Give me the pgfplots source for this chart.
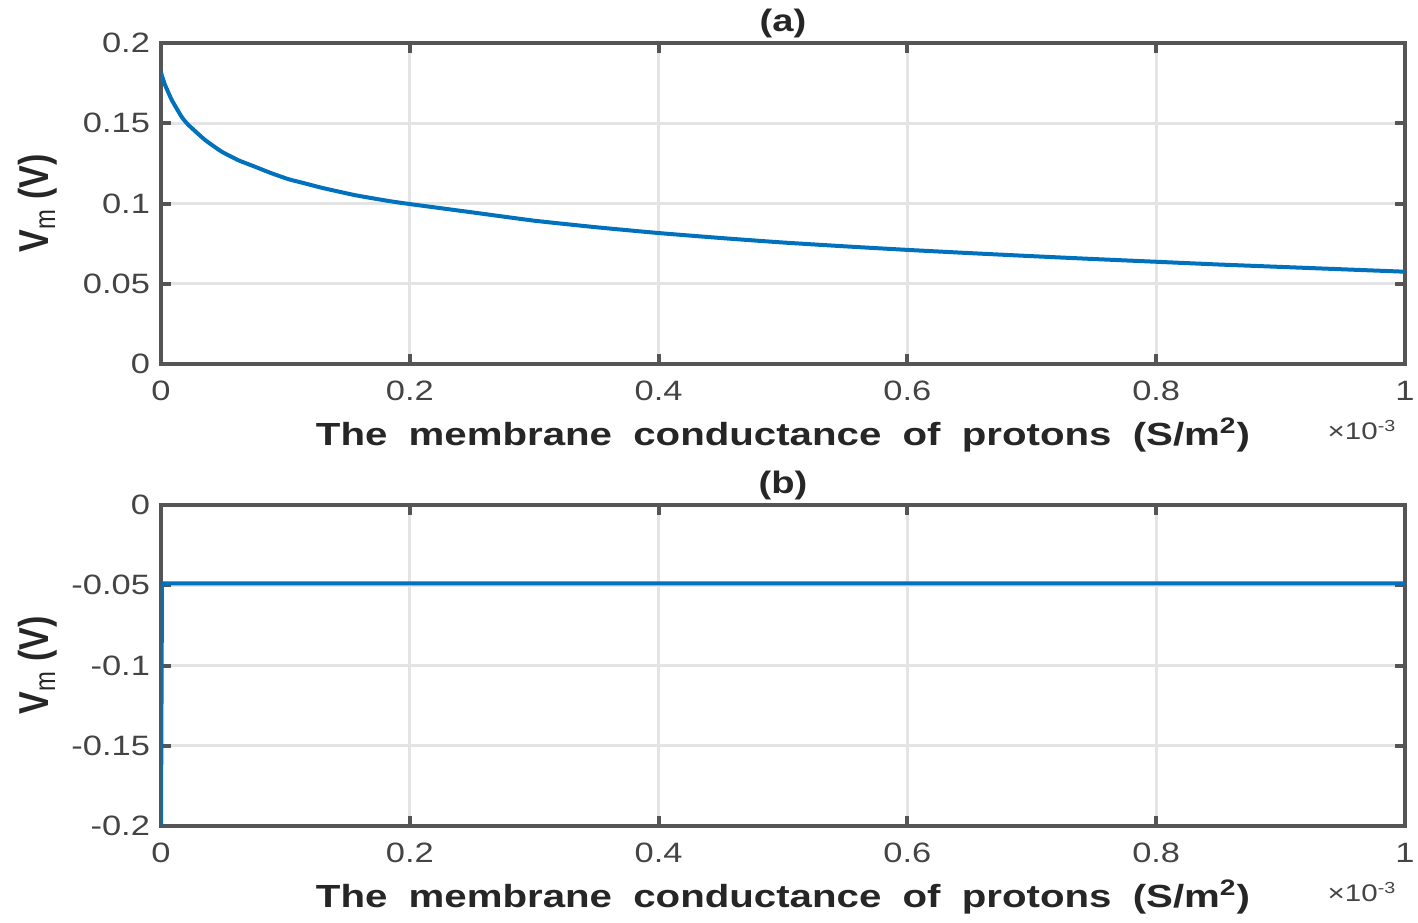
\documentclass[border=0pt]{standalone}
\usepackage{pgfplots}
\pgfplotsset{compat=1.18}
\usepackage{fontspec}
\setmainfont[FakeStretch=1.23]{Liberation Sans}
\newfontfamily\plainfont{Liberation Sans}
\definecolor{mblue}{HTML}{0072BD}
\definecolor{axgray}{HTML}{555555}
\definecolor{tickgray}{HTML}{444444}
\definecolor{gridgray}{HTML}{E4E4E4}
\newcommand{\ws}{\hspace{0.65em}}
\newcommand{\xlab}{\resizebox{467pt}{\height}{The\ws membrane\ws conductance\ws of\ws protons\ws (S/m\textsuperscript{2})}}
\newcommand{\ylab}{\scalebox{1}[1.23]{\plainfont\textbf{V}\textsubscript{m}\ \textbf{(V)}}}
\pgfplotsset{
  mstyle/.style={
    scale only axis, width=622pt, height=160.5pt,
    xmin=0, xmax=1, clip mode=individual,
    axis line style={axgray, line width=2pt},
    grid=major, major grid style={gridgray, line width=1.6pt},
    tick align=inside, major tick length=5pt,
    every tick/.style={axgray, line width=2pt},
    xtick={0,0.2,0.4,0.6,0.8,1},
    xticklabels={0,0.2,0.4,0.6,0.8,1},
    /pgf/number format/assume math mode=true,
    ticklabel style={font=\fontsize{14}{17}\selectfont, text=tickgray},
    xticklabel style={anchor=center, yshift=-13.5pt},
    yticklabel style={xshift=-2pt},
    xlabel={\xlab},
    xlabel style={at={(axis description cs:0.5,0)}, anchor=center, yshift=-35.5pt,
      font=\bfseries\fontsize{16}{19}\selectfont, text=black!85},
    ylabel={\ylab},
    ylabel style={at={(axis description cs:0,0.5)}, anchor=center, yshift=61.5pt,
      font=\fontsize{17}{20}\selectfont, text=black!85},
    title style={at={(axis description cs:0.5,1)}, anchor=center, yshift=4pt,
      font=\bfseries\fontsize{15.5}{18}\selectfont, text=black!85},
  }
}
\pgfplotstableread{
x y
0 0.182
0.0006 0.180
0.0032 0.174
0.0086 0.1646
0.0166 0.154
0.022 0.149
0.0354 0.1396
0.0488 0.1323
0.0621 0.127
0.0756 0.1229
0.089 0.1188
0.1023 0.1152
0.1158 0.1125
0.1292 0.1098
0.156 0.1052
0.1827 0.1016
0.2015 0.0995
0.25 0.0945
0.3 0.0893
0.35 0.0852
0.4 0.0816
0.45 0.0785
0.5 0.0757
0.55 0.0733
0.6 0.0711
0.65 0.0691
0.7 0.0672
0.75 0.0654
0.8 0.0637
0.85 0.0620
0.9 0.0605
0.95 0.0590
1.0 0.0575
}\dataA
\pgfplotstableread{
x y
0 -0.2
0.0008 -0.0488
1 -0.0488
}\dataB
\begin{document}
\begin{tikzpicture}
\begin{axis}[mstyle, at={(0pt,0pt)}, anchor=north west,
  title={(a)},
  ymin=0, ymax=0.2,
  ytick={0,0.05,0.1,0.15,0.2},
  yticklabels={0,0.05,0.1,0.15,0.2}]
\addplot[mblue, line width=2pt, line join=round, smooth, tension=0.3] table[x=x,y=y] {\dataA};
\node[anchor=center, text=tickgray, font=\fontsize{12}{14}\selectfont]
  at (rel axis cs:1,0) [xshift=-21.5pt, yshift=-33pt] {×10\textsuperscript{-3}};
\end{axis}
\begin{axis}[mstyle, at={(0pt,-231pt)}, anchor=north west,
  title={(b)},
  ymin=-0.2, ymax=0,
  ytick={-0.2,-0.15,-0.1,-0.05,0},
  yticklabels={-0.2,-0.15,-0.1,-0.05,0}]
\addplot[mblue, line width=2pt] table[x=x,y=y] {\dataB};
\node[anchor=center, text=tickgray, font=\fontsize{12}{14}\selectfont]
  at (rel axis cs:1,0) [xshift=-21.5pt, yshift=-33pt] {×10\textsuperscript{-3}};
\end{axis}
\pgfresetboundingbox
\path[use as bounding box] (-80.5pt,21.5pt) rectangle (628.5pt,-439.5pt);
\end{tikzpicture}
\end{document}
